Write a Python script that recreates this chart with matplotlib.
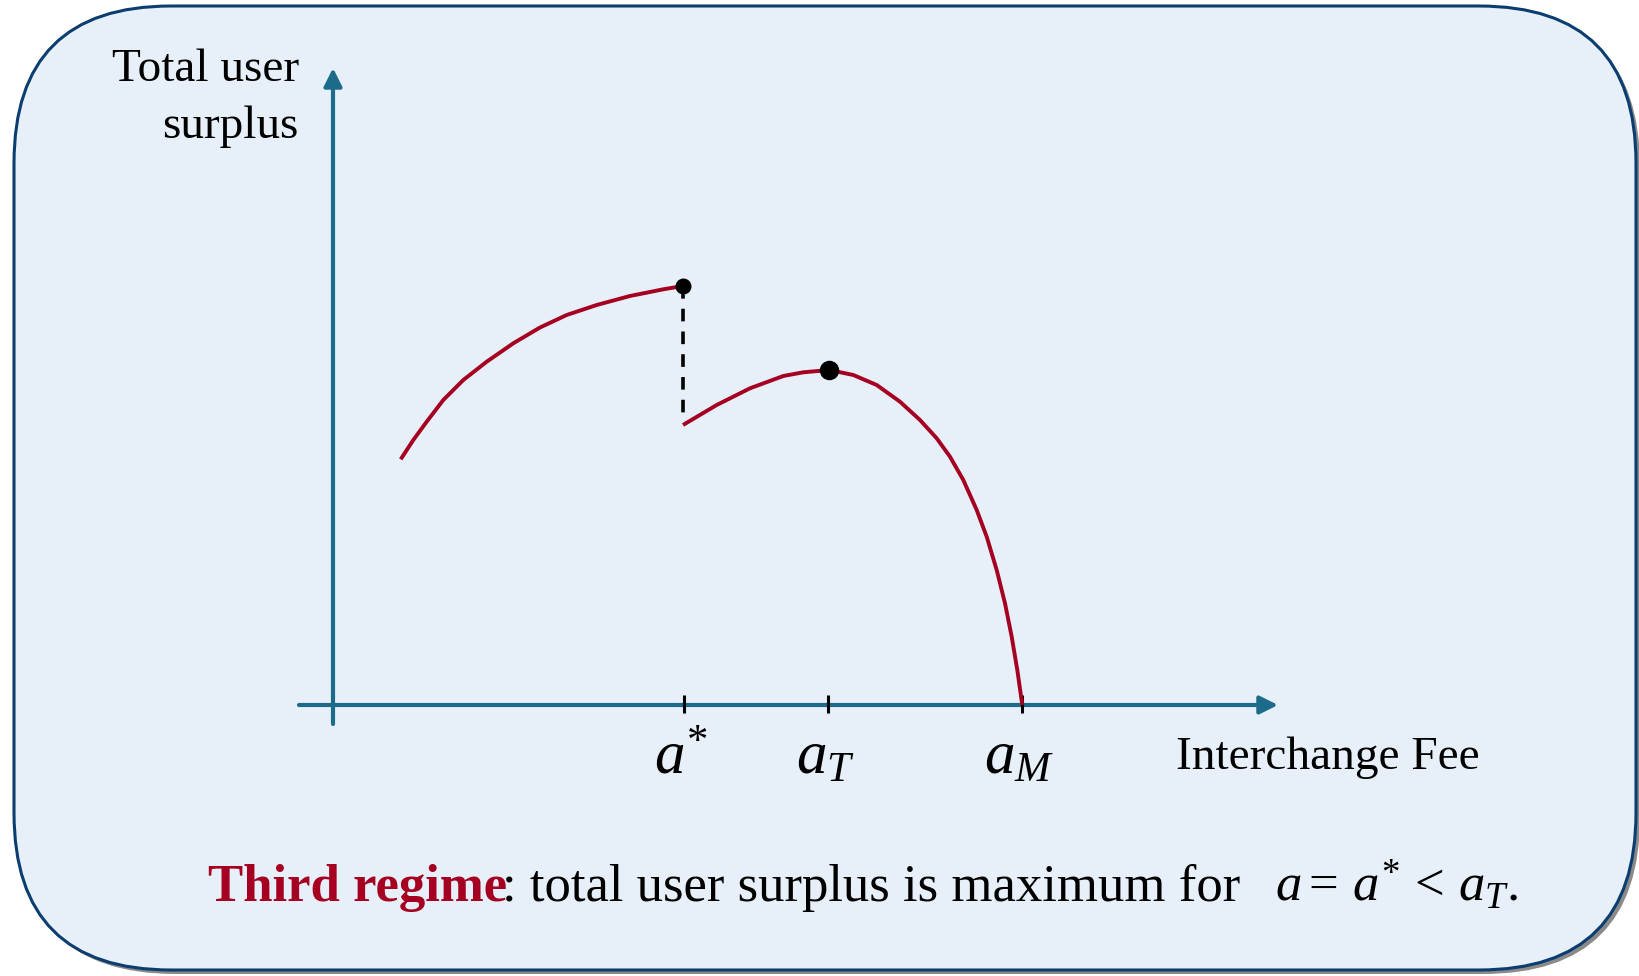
import matplotlib
matplotlib.use("Agg")
import matplotlib.pyplot as plt
from matplotlib.patches import FancyBboxPatch, FancyArrowPatch

plt.rcParams['font.family'] = ['Liberation Serif', 'DejaVu Serif']
plt.rcParams['mathtext.fontset'] = 'custom'
plt.rcParams['mathtext.rm'] = 'Liberation Serif'
plt.rcParams['mathtext.it'] = 'Liberation Serif:italic'
plt.rcParams['mathtext.bf'] = 'Liberation Serif:bold'

# ---- data (arbitrary units, origin at axes crossing) ----
upper_fee = [67.7, 80.3, 93.7, 110.3, 130.3, 153.7, 180.3, 207, 233.7, 263.7, 297,
             330.3, 350]
upper_surplus = [245.7, 265, 283.3, 305, 325, 343.3, 361.7, 377.5, 390, 400, 409,
                 415.7, 419]
lower_fee = [350, 383.7, 417, 450.3, 470.3, 496.3, 520.3, 543.7, 567, 587, 603.7, 617,
             630.3, 643.7, 653.7, 663.7, 672, 678.7, 684.3, 689.3]
lower_surplus = [280, 300, 316.7, 329, 332.7, 335, 330, 320, 303.3, 285, 266.7, 248.3,
                 225, 195, 168.3, 135, 101.7, 68.3, 35, 0]
tick_fees = [351, 495.5, 689]
tick_labels = [r'$a^{*}$', r'$a_{T}$', r'$a_{M}$']
ylabel_lines = ['Total user', 'surplus']
xlabel = 'Interchange Fee'
caption_bold = 'Third regime'
caption_rest = ': total user surplus is maximum for'
caption_math = r'$a =\,a^{*}\,<\,a_{T}.$'

RED = '#A50021'
AXC = '#1C6B8A'
NAVY = '#0B3D6F'
BG = '#E7F0F8'

fig = plt.figure(figsize=(16.4, 9.76), dpi=100)
ax = fig.add_axes([0, 0, 1, 1])
ax.set_xlim(-333, 1307)
ax.set_ylim(-271, 705)
ax.axis('off')

# rounded panel with shadow
shadow = FancyBboxPatch((-319 + 4, -265 - 4), 1622, 964,
                        boxstyle="round,pad=0,rounding_size=157",
                        facecolor='#8a8a8a', edgecolor='none', zorder=0)
panel = FancyBboxPatch((-319, -265), 1622, 964,
                       boxstyle="round,pad=0,rounding_size=157",
                       facecolor=BG, edgecolor=NAVY, linewidth=2.2, zorder=1)
ax.add_patch(shadow)
ax.add_patch(panel)

# axes arrows
for (x0, y0, x1, y1) in [(-34, 0, 945, 0), (0, -19, 0, 637)]:
    arr = FancyArrowPatch((x0, y0), (x1, y1),
                          arrowstyle="-|>,head_length=0.6,head_width=0.3",
                          mutation_scale=18, color=AXC, linewidth=3.0,
                          shrinkA=0, shrinkB=0, zorder=3)
    ax.add_patch(arr)

# ticks
ax.vlines(tick_fees, -8, 10, colors='black', linewidth=2.2, zorder=4)
for xf, lab in zip(tick_fees, tick_labels):
    ax.text(xf - 3, -69, lab, fontsize=44, ha='center', va='baseline', zorder=5)

# curves
line_kw = dict(color=RED, linewidth=2.8, solid_capstyle='butt',
               solid_joinstyle='round', zorder=4)
ax.plot(upper_fee, upper_surplus, **line_kw)
ax.plot(lower_fee, lower_surplus, **line_kw)
ax.plot([upper_fee[-1], upper_fee[-1]], [upper_surplus[-1], lower_surplus[0] + 8],
        color='black', linewidth=2.6, dashes=(3.5, 2.8), zorder=4)
ax.plot([upper_fee[-1]], [upper_surplus[-1]], 'o', color='black', markersize=10.5, zorder=6)
imax = lower_surplus.index(max(lower_surplus))
ax.plot([lower_fee[imax]], [lower_surplus[imax]], 'o', color='black', markersize=13, zorder=6)

# labels
ax.text(-34, 624, ylabel_lines[0], fontsize=34, ha='right', va='baseline', zorder=5)
ax.text(-34, 567, ylabel_lines[1], fontsize=34, ha='right', va='baseline', zorder=5)
ax.text(842.6, -64, xlabel, fontsize=34, ha='left', va='baseline', zorder=5)

# caption
ax.text(-125.3, -196, caption_bold, fontsize=38, fontweight='bold', color=RED,
        ha='left', va='baseline', zorder=5)
ax.text(169, -196, caption_rest, fontsize=38, ha='left', va='baseline', zorder=5)
ax.text(942, -196, caption_math, fontsize=38, ha='left', va='baseline', zorder=5)

fig.savefig('out.png', dpi=100, facecolor='white')
